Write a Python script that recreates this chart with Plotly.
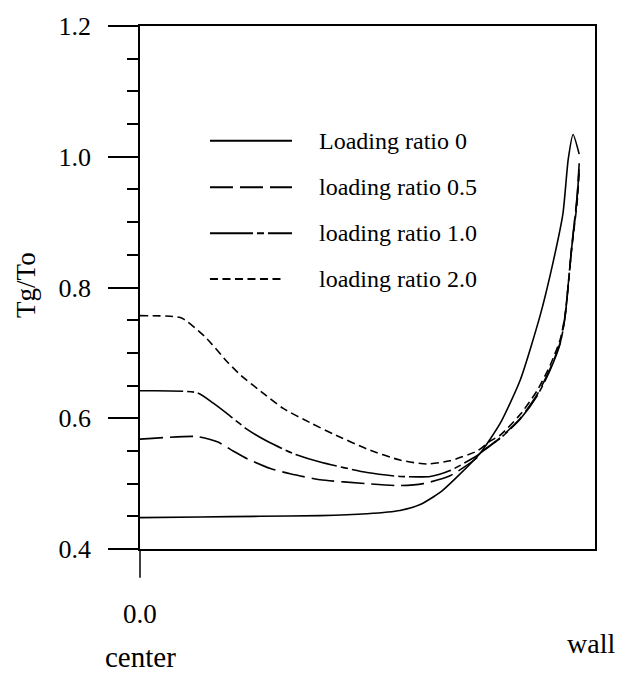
import plotly.graph_objects as go

# normalized radial position (0 = center, 1 = wall)
x_r0 = [0.0, 0.137, 0.274, 0.410, 0.517, 0.592, 0.638, 0.684, 0.729, 0.775, 0.820, 0.866, 0.911, 0.940, 0.963, 0.975, 0.986, 1.0]
y_r0 = [0.448, 0.449, 0.450, 0.451, 0.454, 0.459, 0.468, 0.487, 0.515, 0.547, 0.592, 0.659, 0.757, 0.837, 0.913, 0.996, 1.034, 1.004]

x_r05 = [0.0, 0.130, 0.176, 0.212, 0.244, 0.297, 0.342, 0.410, 0.517, 0.592, 0.645, 0.706, 0.768, 0.779, 0.820, 0.866, 0.904, 0.934, 0.957, 0.968, 0.983, 0.995, 1.0]
y_r05 = [0.568, 0.572, 0.564, 0.550, 0.538, 0.523, 0.515, 0.506, 0.500, 0.497, 0.500, 0.512, 0.540, 0.549, 0.570, 0.600, 0.636, 0.676, 0.716, 0.757, 0.863, 0.938, 0.990]

x_r10 = [0.0, 0.130, 0.167, 0.206, 0.244, 0.292, 0.349, 0.410, 0.517, 0.592, 0.661, 0.706, 0.768, 0.779, 0.820, 0.866, 0.904, 0.934, 0.957, 0.968, 0.983, 0.995, 1.0]
y_r10 = [0.642, 0.639, 0.623, 0.603, 0.583, 0.564, 0.546, 0.533, 0.517, 0.511, 0.511, 0.520, 0.543, 0.549, 0.569, 0.599, 0.634, 0.674, 0.715, 0.756, 0.861, 0.934, 0.984]

x_r20 = [0.0, 0.069, 0.096, 0.149, 0.199, 0.229, 0.281, 0.326, 0.388, 0.440, 0.517, 0.592, 0.654, 0.706, 0.768, 0.797, 0.820, 0.866, 0.904, 0.934, 0.957, 0.968, 0.983, 0.995, 1.0]
y_r20 = [0.757, 0.756, 0.753, 0.724, 0.686, 0.666, 0.638, 0.615, 0.593, 0.576, 0.553, 0.536, 0.530, 0.535, 0.550, 0.565, 0.574, 0.606, 0.642, 0.681, 0.721, 0.759, 0.860, 0.928, 0.976]

series_names = ["Loading ratio 0", "loading ratio 0.5", "loading ratio 1.0", "loading ratio 2.0"]
dashes = ["solid", "23px,7px", "43px,4px,7px,4px", "8px,4.5px"]

y_tickvals = [0.4, 0.6, 0.8, 1.0, 1.2]
y_ticktext = ["0.4", "0.6", "0.8", "1.0", "1.2"]

FONT = "Liberation Serif"

fig = go.Figure()
for xs, ys, nm, ds in zip([x_r0, x_r05, x_r10, x_r20], [y_r0, y_r05, y_r10, y_r20], series_names, dashes):
    fig.add_trace(go.Scatter(x=xs, y=ys, mode="lines", name=nm,
                             line=dict(color="black", width=1.6, dash=ds, shape="spline", smoothing=0.6),
                             showlegend=False))

# manual legend
leg_y = [0.7807, 0.6919, 0.6036, 0.5161]
leg_x1 = [0.3341, 0.3341, 0.3341, 0.3187]
shapes = []
annotations = []
for yy, x1, nm, ds in zip(leg_y, leg_x1, series_names, dashes):
    shapes.append(dict(type="line", xref="paper", yref="paper", x0=0.1538, x1=x1, y0=yy, y1=yy,
                       line=dict(color="black", width=2, dash=ds)))
    annotations.append(dict(xref="paper", yref="paper", x=0.3890, y=yy, text=nm, showarrow=False,
                            xanchor="left", yanchor="middle", font=dict(family=FONT, size=24, color="black")))

# left axis extension below the plot
shapes.append(dict(type="line", xref="paper", yref="paper", x0=0, x1=0, y0=0, y1=-0.0548,
                   line=dict(color="black", width=1.5)))

annotations += [
    dict(xref="paper", yref="paper", x=0, y=-0.125, text="0.0", showarrow=False,
         xanchor="center", yanchor="middle", font=dict(family=FONT, size=27, color="black")),
    dict(xref="paper", yref="paper", x=0, y=-0.206, text="center", showarrow=False,
         xanchor="center", yanchor="middle", font=dict(family=FONT, size=29, color="black")),
    dict(xref="paper", yref="paper", x=0.991, y=-0.180, text="wall", showarrow=False,
         xanchor="center", yanchor="middle", font=dict(family=FONT, size=28, color="black")),
    dict(xref="paper", yref="paper", x=-0.2505, y=0.505, text="Tg/To", showarrow=False, textangle=-90,
         xanchor="center", yanchor="middle", font=dict(family=FONT, size=27, color="black")),
]

fig.update_layout(
    width=629, height=675,
    margin=dict(l=140, r=34, t=20, b=126),
    paper_bgcolor="white", plot_bgcolor="white",
    font=dict(family=FONT, color="black"),
    shapes=shapes, annotations=annotations,
    xaxis=dict(range=[0, 1.036], showgrid=False, zeroline=False, showticklabels=False, ticks="",
               showline=True, linecolor="black", linewidth=1.5, mirror=True),
    yaxis=dict(range=[0.4, 1.2], showgrid=False, zeroline=False, tickvals=y_tickvals, ticktext=y_ticktext,
               ticks="outside", ticklen=30, tickwidth=1.5, tickcolor="black",
               minor=dict(dtick=0.05, tick0=0.4, ticks="outside", ticklen=11, tickwidth=1.5, tickcolor="black"),
               ticklabelstandoff=12,
               tickfont=dict(family=FONT, size=26, color="black"),
               showline=True, linecolor="black", linewidth=1.5, mirror=True),
)

fig.write_html("out.html")
